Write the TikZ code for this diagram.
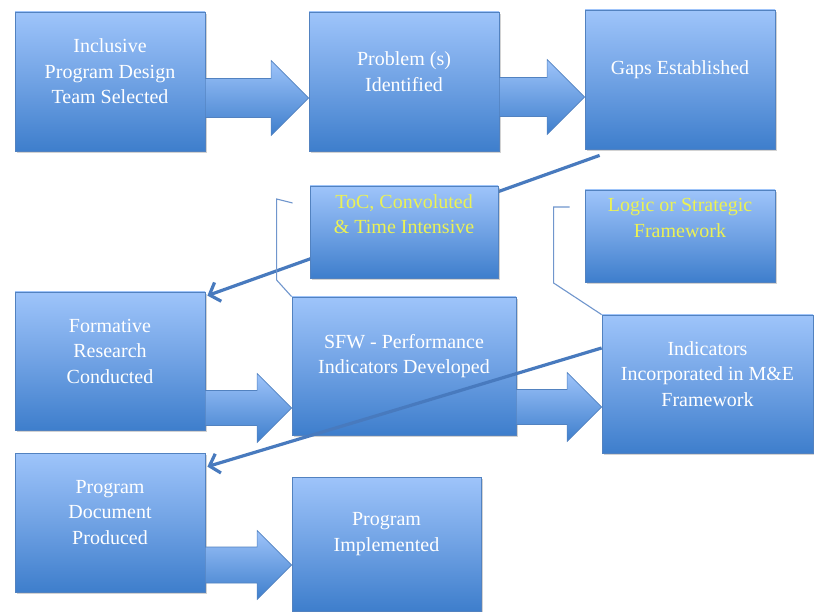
\documentclass[tikz,border=0pt]{standalone}
\usepackage{fontspec}
\setmainfont{Liberation Serif}
\usetikzlibrary{arrows.meta,shadows,calc,backgrounds}

\definecolor{boxtop}{RGB}{158,196,250}
\definecolor{boxmid}{RGB}{112,162,228}
\definecolor{boxbot}{RGB}{62,126,204}
\definecolor{boxline}{RGB}{82,130,192}
\definecolor{linkblue}{RGB}{72,122,190}
\definecolor{bracketblue}{RGB}{112,150,205}
\definecolor{tocyellow}{RGB}{236,242,84}

\tikzset{
  box/.style={draw=boxline, line width=0.8pt, top color=boxtop, bottom color=boxbot, middle color=boxmid,
    drop shadow={shadow xshift=1.5pt, shadow yshift=-2pt, opacity=0.35}, inner sep=0pt},
  lbl/.style={text=white, align=center, font=\fontsize{20}{25.5}\selectfont, yshift=10pt},
  ylbl/.style={lbl, text=tocyellow, yshift=8pt},
  blockarrow/.style={draw=boxline, line width=0.6pt, top color=boxtop, bottom color=boxbot},
  link/.style={draw=linkblue, line width=3.2pt, -{Straight Barb[length=9pt,width=20pt]}},
  bracket/.style={draw=bracketblue, line width=1.1pt}
}

\newcommand{\bigarrow}[5]{%
  \path (#1.east |- 0,#3) coordinate (s) (#2.west |- 0,#3) coordinate (t);
  \path[blockarrow] ($(s)+(0,-#4)$) -- ($(t)+(-#5,-#4)$) -- ($(t)+(-#5,-#5)$) -- (t)
    -- ($(t)+(-#5,#5)$) -- ($(t)+(-#5,#4)$) -- ($(s)+(0,#4)$) -- cycle;}

\begin{document}
\begin{tikzpicture}[x=1pt,y=-1pt]
\useasboundingbox (0,0) rectangle (814,612);
\begin{scope}[on background layer]
\fill[white] (0,0) rectangle (814,612);
\end{scope}

\node[box, minimum width=190pt, minimum height=139pt, label={[lbl]center:Inclusive\\Program Design\\Team Selected}] (team) at (110,81.5) {};
\node[box, minimum width=190pt, minimum height=139pt, label={[lbl]center:Problem (s)\\Identified}] (problem) at (404,81.5) {};
\node[box, minimum width=190pt, minimum height=139pt, label={[lbl]center:Gaps Established}] (gaps) at (680,79.5) {};

\node[box, minimum width=190pt, minimum height=138pt, label={[lbl]center:Formative\\Research\\Conducted}] (formative) at (110,361) {};

\begin{scope}[on background layer]
\draw[link] ($(gaps.south west)+(15,6)$) -- ($(formative.north east)+(2,4)$);
\end{scope}

\node[box, minimum width=188pt, minimum height=92pt, label={[ylbl]center:ToC, Convoluted\\\& Time Intensive}] (toc) at (404,232) {};
\node[box, minimum width=190pt, minimum height=92pt, label={[ylbl]center:Logic or Strategic\\Framework}] (logic) at (680,236) {};

\node[box, minimum width=224pt, minimum height=138pt, label={[lbl]center:SFW - Performance\\Indicators Developed}] (sfw) at (404,366) {};
\node[box, minimum width=211pt, minimum height=138pt, label={[lbl]center:Indicators\\Incorporated in M\&E\\Framework}] (indic) at (707.5,384) {};

\node[box, minimum width=190pt, minimum height=139pt, label={[lbl]center:Program\\Document\\Produced}] (progdoc) at (110,522.5) {};
\node[box, minimum width=189pt, minimum height=134pt, label={[lbl]center:Program\\Implemented}] (progimp) at (386.5,544) {};

\bigarrow{team}{problem}{98}{19.5}{37.5}
\bigarrow{problem}{gaps}{97}{19.5}{37.5}
\bigarrow{formative}{sfw}{408}{17.5}{34.5}
\bigarrow{sfw}{indic}{407}{17.5}{34.5}
\bigarrow{progdoc}{progimp}{565}{18}{34.5}

\draw[bracket] ($(toc.west)+(-17,-29)$) -- ++(-16,-4) -- ++(0,81) -- (sfw.north west);
\draw[bracket] ($(logic.west)+(-15,-29)$) -- ++(-16,0) -- ++(0,76) -- (indic.north west);

\draw[link] ($(indic.west)+(0,-36)$) -- ($(progdoc.north east)+(2,14)$);
\end{tikzpicture}
\end{document}
